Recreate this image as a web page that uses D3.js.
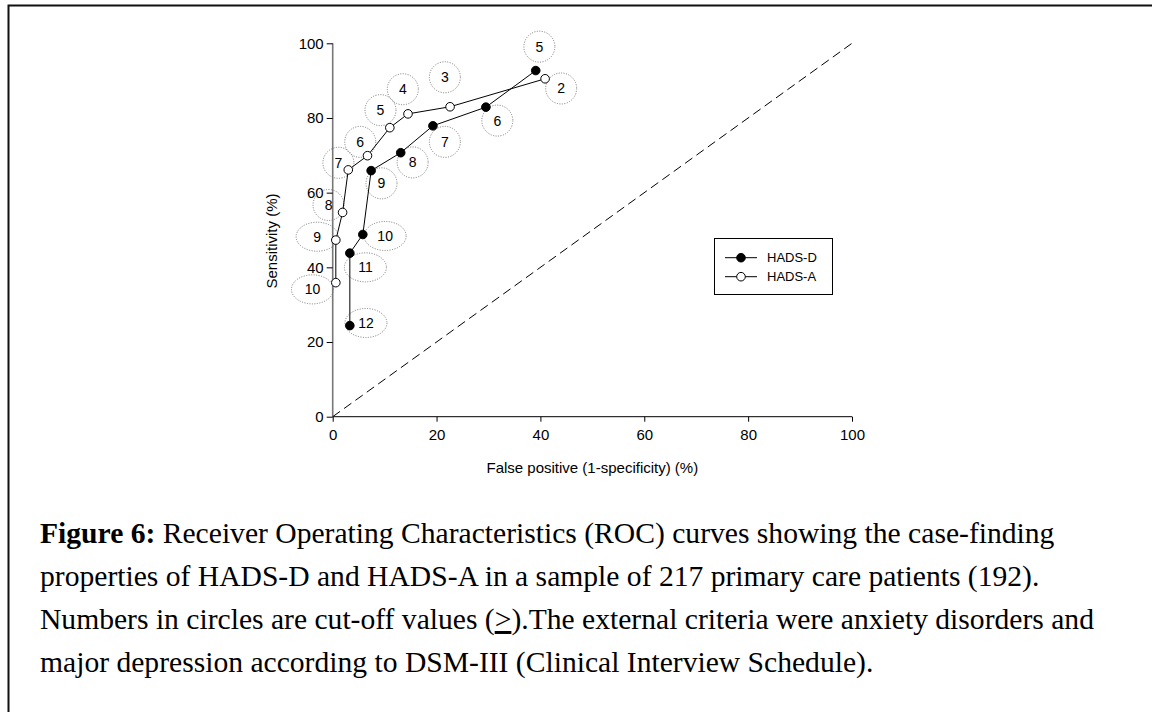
<!DOCTYPE html>
<html>
<head>
<meta charset="utf-8">
<script src="https://cdn.jsdelivr.net/npm/d3@7"></script>
<style>
  body { margin: 0; background: #fff; }
  svg { display: block; }
</style>
</head>
<body>
<svg id="chart" width="1152" height="712"></svg>
<script>
// data
const seriesNames = ['HADS-D', 'HADS-A'];

const dCutoff = [5, 6, 7, 8, 9, 10, 11, 12];
const dFalsePos = [39.1, 29.5, 19.3, 13.1, 7.4, 5.8, 3.3, 3.3];
const dSens = [92.7, 82.9, 77.9, 70.7, 65.9, 48.8, 43.8, 24.4];

const aCutoff = [2, 3, 4, 5, 6, 7, 8, 9, 10];
const aFalsePos = [40.9, 22.6, 14.5, 11.0, 6.7, 3.0, 1.9, 0.6, 0.6];
const aSens = [90.5, 83.0, 81.1, 77.4, 69.9, 66.1, 54.7, 47.3, 35.9];

// where the cut-off bubbles sit (data units)
const dLabelX = [39.8, 31.7, 21.6, 15.4, 9.4, 10.1, 6.3, 6.4];
const dLabelY = [99.1, 79.3, 73.6, 68.1, 62.5, 48.4, 40.0, 25.1];
const aLabelX = [44.0, 21.6, 13.5, 9.2, 5.3, 1.1, -0.8, -3.0, -3.9];
const aLabelY = [87.9, 90.9, 87.7, 82.1, 73.6, 68.0, 56.7, 48.2, 34.1];

const xTicks = [0, 20, 40, 60, 80, 100];
const yTicks = [0, 20, 40, 60, 80, 100];

// caption pieces: [text, bold, underline]
const captionLines = [
  [['Figure 6:', true], [' Receiver Operating Characteristics (ROC) curves showing the case-finding']],
  [['properties of HADS-D and HADS-A in a sample of 217 primary care patients (192).']],
  [['Numbers in circles are cut-off values ('], ['>', false, true], [').The external criteria were anxiety disorders and']],
  [['major depression according to DSM-III (Clinical Interview Schedule).']]
];

const svg = d3.select('#chart');

// outer frame (runs off right / bottom)
svg.append('rect')
  .attr('x', 8.5).attr('y', 5.5)
  .attr('width', 1300).attr('height', 900)
  .attr('fill', 'none')
  .attr('stroke', '#111')
  .attr('stroke-width', 2);

const x = d3.scaleLinear().domain([0, 100]).range([332.7, 852]);
const y = d3.scaleLinear().domain([0, 100]).range([416.7, 43.3]);

const font = '"Liberation Sans", Arial, sans-serif';

// axes
const xAxis = svg.append('g')
  .attr('transform', `translate(0,${y(0)})`)
  .call(d3.axisBottom(x).tickValues(xTicks).tickSize(5).tickPadding(8).tickFormat(d3.format('d')));
xAxis.select('.domain').attr('stroke', '#000').attr('d', `M${x(0)},0H${x(100)}`);

const yAxis = svg.append('g')
  .attr('transform', `translate(${x(0)},0)`)
  .call(d3.axisLeft(y).tickValues(yTicks).tickSize(6).tickPadding(3).tickFormat(d3.format('d')));
yAxis.select('.domain').attr('stroke', '#777').attr('stroke-width', 1.6).attr('d', `M0,${y(0)}V${y(100)}`);

svg.selectAll('.tick text')
  .attr('font-family', font)
  .attr('font-size', 15)
  .attr('fill', '#000');

// axis titles
svg.append('text')
  .attr('x', (x(0) + x(100)) / 2)
  .attr('y', 473)
  .attr('text-anchor', 'middle')
  .attr('font-family', font)
  .attr('font-size', 15)
  .text('False positive (1-specificity) (%)');

svg.append('text')
  .attr('transform', 'translate(277,241) rotate(-90)')
  .attr('text-anchor', 'middle')
  .attr('font-family', font)
  .attr('font-size', 15)
  .text('Sensitivity (%)');

// chance line
svg.append('line')
  .attr('x1', x(0)).attr('y1', y(0))
  .attr('x2', x(100)).attr('y2', y(100))
  .attr('stroke', '#000')
  .attr('stroke-width', 1)
  .attr('stroke-dasharray', '9,5');

// cut-off bubbles
function bubbles(cuts, lx, ly, wide) {
  const g = svg.append('g');
  const items = cuts.map((c, i) => ({ c, lx: lx[i], ly: ly[i], wide: wide.includes(c) }));
  g.selectAll('ellipse')
    .data(items)
    .join('ellipse')
    .attr('cx', d => x(d.lx))
    .attr('cy', d => y(d.ly))
    .attr('rx', d => d.wide ? 21 : 15.5)
    .attr('ry', d => d.wide ? 14.5 : 15.5)
    .attr('fill', 'none')
    .attr('stroke', '#777')
    .attr('stroke-width', 1)
    .attr('stroke-dasharray', '1,1.5');
  g.selectAll('text')
    .data(items)
    .join('text')
    .attr('x', d => x(d.lx))
    .attr('y', d => y(d.ly) + 5)
    .attr('text-anchor', 'middle')
    .attr('font-family', font)
    .attr('font-size', 14)
    .text(d => d.c);
}
bubbles(dCutoff, dLabelX, dLabelY, [10, 11, 12]);
bubbles(aCutoff, aLabelX, aLabelY, [9, 10]);

// curves
const line = d3.line().x(d => x(d[0])).y(d => y(d[1]));
const dPts = dFalsePos.map((v, i) => [v, dSens[i]]);
const aPts = aFalsePos.map((v, i) => [v, aSens[i]]);

[[dPts, '#000'], [aPts, '#fff']].forEach(([pts, fill]) => {
  svg.append('path')
    .attr('d', line(pts))
    .attr('fill', 'none')
    .attr('stroke', '#000')
    .attr('stroke-width', 1);
  svg.append('g').selectAll('circle')
    .data(pts)
    .join('circle')
    .attr('cx', d => x(d[0]))
    .attr('cy', d => y(d[1]))
    .attr('r', 4.3)
    .attr('fill', fill)
    .attr('stroke', '#000')
    .attr('stroke-width', 1);
});

// legend
const legend = svg.append('g');
legend.append('rect')
  .attr('x', 714.5).attr('y', 238.5)
  .attr('width', 118).attr('height', 56)
  .attr('fill', '#fff')
  .attr('stroke', '#000');
seriesNames.forEach((name, i) => {
  const ly = 257.7 + i * 19;
  legend.append('line')
    .attr('x1', 725).attr('x2', 757)
    .attr('y1', ly).attr('y2', ly)
    .attr('stroke', '#000');
  legend.append('circle')
    .attr('cx', 741).attr('cy', ly).attr('r', 4.3)
    .attr('fill', i === 0 ? '#000' : '#fff')
    .attr('stroke', '#000');
  legend.append('text')
    .attr('x', 767).attr('y', ly + 4.6)
    .attr('font-family', font)
    .attr('font-size', 13)
    .text(name);
});

// caption
const cap = svg.append('g')
  .attr('font-family', '"Liberation Serif", "Times New Roman", serif')
  .attr('font-size', 29.6);
captionLines.forEach((ln, i) => {
  const t = cap.append('text')
    .attr('x', 40)
    .attr('y', 543 + i * 43);
  ln.forEach(([s, bold, under]) => {
    const sp = t.append('tspan').text(s);
    if (bold) sp.attr('font-weight', 'bold');
    if (under) sp.attr('text-decoration', 'underline');
  });
});
</script>
</body>
</html>
